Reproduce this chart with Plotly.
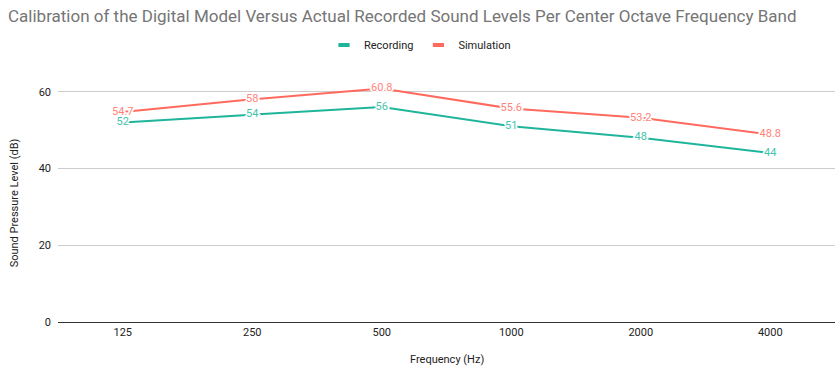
import plotly.graph_objects as go

# Octave-band centre frequencies and measured / simulated levels (dB)
bands = ["125", "250", "500", "1000", "2000", "4000"]
recording = [52, 54, 56, 51, 48, 44]
simulation = [54.7, 58, 60.8, 55.6, 53.2, 48.8]

rec_line = "#1fb59b"
rec_text = "#44c4ad"
sim_line = "#ff6a5e"
sim_text = "#ff8379"
halo = ("1px 0 0 white, -1px 0 0 white, 0 1px 0 white, 0 -1px 0 white, "
        "2px 0 0 white, -2px 0 0 white, 1px 1px 0 white, -1px -1px 0 white, "
        "1px -1px 0 white, -1px 1px 0 white")

W, H = 835, 367
M_TOP, M_BOT = 84, 45
plot_h = H - M_TOP - M_BOT

fig = go.Figure()
for name, vals, lc, tc in [("Recording", recording, rec_line, rec_text),
                            ("Simulation", simulation, sim_line, sim_text)]:
    fig.add_trace(go.Scatter(
        x=bands, y=vals, name=name, mode="lines+text",
        line=dict(color=lc, width=2),
        text=[f"{v:g}" for v in vals], textposition="middle center",
        textfont=dict(family="Roboto", size=11, color=tc, shadow=halo),
        showlegend=False, cliponaxis=False,
    ))
    # legend entry: short rounded bar
    fig.add_trace(go.Scatter(
        x=[None], y=[None], name=name, mode="markers",
        marker=dict(symbol="line-ew", size=8, line=dict(width=4, color=lc)),
    ))

fig.update_layout(
    width=W, height=H,
    margin=dict(l=58, r=0, t=M_TOP, b=M_BOT),
    paper_bgcolor="white", plot_bgcolor="white",
    font=dict(family="Roboto", size=11, color="#222222"),
    title=dict(
        text="Calibration of the Digital Model Versus Actual Recorded Sound Levels Per Center Octave Frequency Band",
        x=8 / W, xanchor="left", xref="container",
        y=1 - 16 / H, yanchor="middle", yref="container",
        font=dict(family="Roboto", size=17, color="#757575"),
    ),
    legend=dict(
        orientation="h", xref="container", x=0.503, xanchor="center",
        yref="container", y=1 - 45 / H, yanchor="middle",
        font=dict(family="Roboto", size=11, color="#222222"),
        itemwidth=30, tracegroupgap=0,
    ),
    xaxis=dict(
        type="category", range=[-0.5, 5.5], automargin=False,
        showgrid=False, showline=True, linecolor="#333333", linewidth=1,
        ticks="", tickfont=dict(size=11, color="#222222"),
    ),
    yaxis=dict(
        range=[0, 62], tickvals=[0, 20, 40, 60], automargin=False,
        showgrid=True, gridcolor="#cccccc", gridwidth=1, zeroline=False,
        ticks="", ticklabelstandoff=6, tickfont=dict(size=11, color="#222222"),
        title=dict(text="Sound Pressure Level (dB)", standoff=17, font=dict(size=11, color="#222222")),
    ),
    annotations=[dict(
        text="Frequency (Hz)", xref="paper", x=0.5, xanchor="center",
        yref="paper", y=-37 / plot_h, yanchor="middle",
        showarrow=False, font=dict(family="Roboto", size=11, color="#222222"),
    )],
)

fig.write_html("out.html")
